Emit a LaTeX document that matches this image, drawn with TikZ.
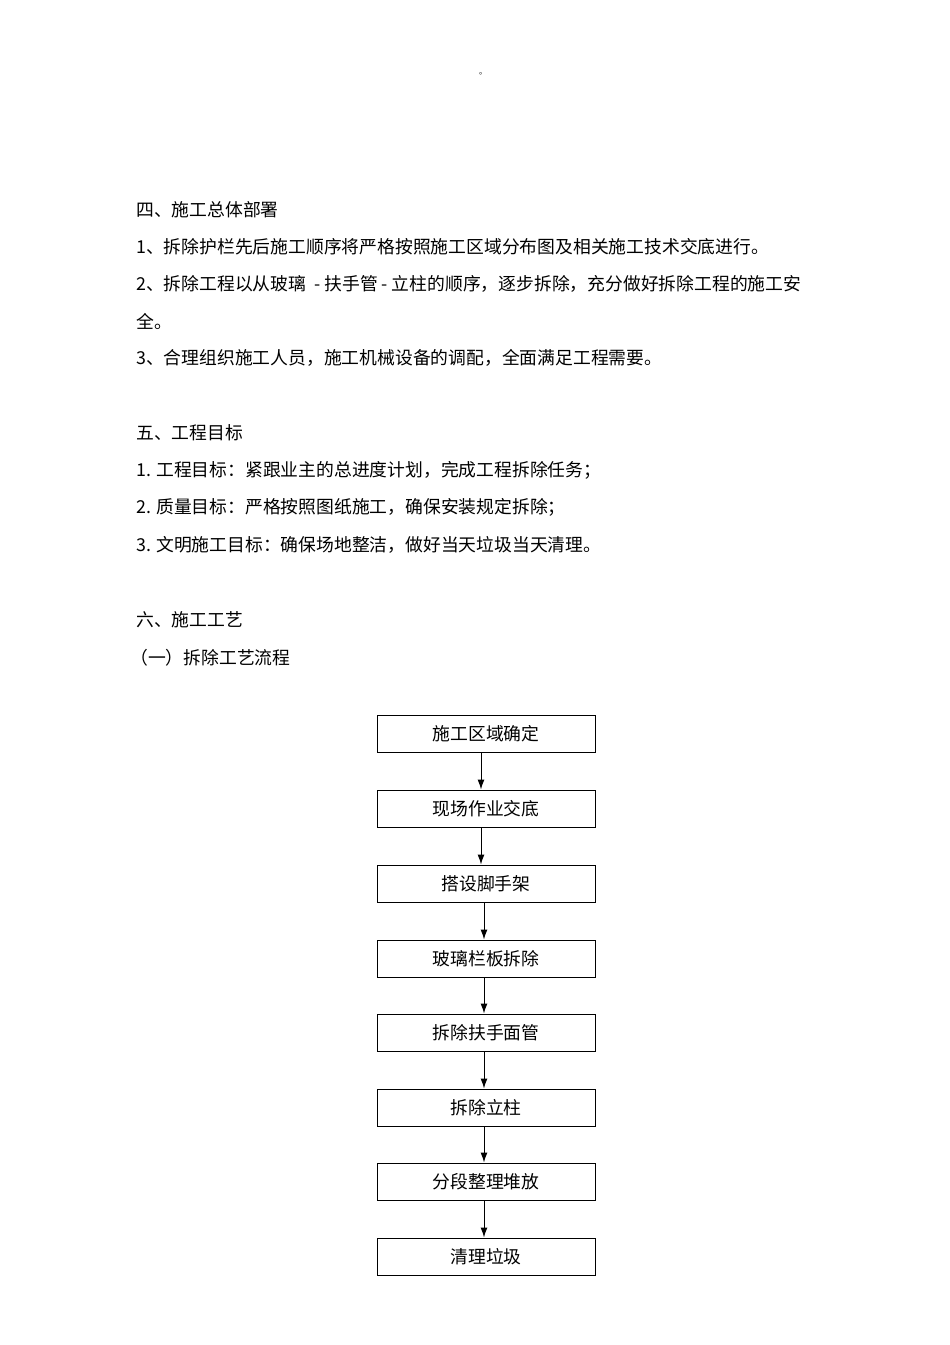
\documentclass[tikz,border=0pt]{standalone}
\usetikzlibrary{arrows.meta}
\usepackage{fontspec}
\newfontfamily\cjk{Noto Sans CJK SC}
\begin{document}
\begin{tikzpicture}[x=1pt,y=-1pt,
  txt/.style={anchor=west,inner sep=0pt,font=\cjk\fontsize{17.8}{20}\selectfont},
  stepbox/.style={draw,line width=1pt,minimum width=218pt,minimum height=37pt,inner sep=0pt,font=\cjk\fontsize{17.8}{20}\selectfont},
  arr/.style={-{Latex[length=10pt,width=7pt]},line width=1pt}]
\useasboundingbox (0,0) rectangle (950,1345);
\node[inner sep=0pt,font=\cjk\fontsize{8}{9}\selectfont] (dot) at (483,74) {。};
\node[txt] (t1) at (136,210) {四、施工总体部署};
\node[txt] (t2) at (136,247) {1、拆除护栏先后施工顺序将严格按照施工区域分布图及相关施工技术交底进行。};
\node[txt] (t3) at (136,284) {2、拆除工程以从玻璃\ \ - 扶手管 - 立柱的顺序，逐步拆除，充分做好拆除工程的施工安};
\node[txt] (t4) at (136,321) {全。};
\node[txt] (t5) at (136,358) {3、合理组织施工人员，施工机械设备的调配，全面满足工程需要。};
\node[txt] (t6) at (136,433) {五、工程目标};
\node[txt] (t7) at (136,470) {1. 工程目标：紧跟业主的总进度计划，完成工程拆除任务；};
\node[txt] (t8) at (136,507) {2. 质量目标：严格按照图纸施工，确保安装规定拆除；};
\node[txt] (t9) at (136,545) {3. 文明施工目标：确保场地整洁，做好当天垃圾当天清理。};
\node[txt] (t10) at (136,620) {六、施工工艺};
\node[txt] (t11) at (130,658) {（一）拆除工艺流程};
\node[stepbox] (b1) at (486,733.5) {施工区域确定};
\node[stepbox] (b2) at (486,808.5) {现场作业交底};
\node[stepbox] (b3) at (486,883.5) {搭设脚手架};
\node[stepbox] (b4) at (486,958.5) {玻璃栏板拆除};
\node[stepbox] (b5) at (486,1032.5) {拆除扶手面管};
\node[stepbox] (b6) at (486,1107.5) {拆除立柱};
\node[stepbox] (b7) at (486,1181.5) {分段整理堆放};
\node[stepbox] (b8) at (486,1256.5) {清理垃圾};
\foreach \a/\b/\x in {b1/b2/481,b2/b3/481,b3/b4/484,b4/b5/484,b5/b6/484,b6/b7/484,b7/b8/484}
  \draw[arr] (\x,0 |- \a.south) -- (\x,0 |- \b.north);
\end{tikzpicture}
\end{document}
